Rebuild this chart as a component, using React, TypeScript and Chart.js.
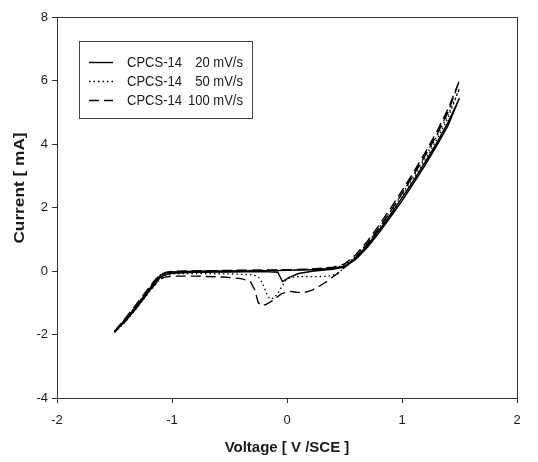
import React, { useEffect, useRef } from "react";
import { Chart, registerables } from "chart.js";

Chart.register(...registerables);

// ---- axis ticks ----
const xTicks = [-2, -1, 0, 1, 2];
const yTicks = [-4, -2, 0, 2, 4, 6, 8];
const xTitle = "Voltage [ V /SCE ]";
const yTitle = "Current [ mA]";

// ---- legend text ----
const sampleName = "CPCS-14";
const scanRates = ["20 mV/s", "50 mV/s", "100 mV/s"];

// ---- 20 mV/s loop (forward then reverse) ----
const volt20 = [
  -1.5, -1.45, -1.4, -1.35, -1.3, -1.25, -1.2, -1.15, -1.1, -1.05, -1.0, -0.8, -0.5, -0.2, 0.0, 0.2, 0.4, 0.5, 0.6, 0.7, 0.8, 0.9, 1.0, 1.1, 1.2, 1.3, 1.4, 1.5,
  1.4, 1.3, 1.2, 1.1, 1.0, 0.9, 0.8, 0.7, 0.6, 0.5, 0.4, 0.3, 0.22, 0.1, 0.02, -0.04, -0.08, -0.2, -0.5, -0.8, -1.0, -1.06, -1.1, -1.15, -1.2, -1.25, -1.3, -1.35, -1.4, -1.45, -1.5,
];
const curr20 = [
  -1.9, -1.7, -1.5, -1.28, -1.06, -0.82, -0.58, -0.34, -0.14, -0.06, -0.03, -0.01, 0.0, 0.01, 0.02, 0.04, 0.08, 0.15, 0.42, 0.82, 1.28, 1.78, 2.3, 2.85, 3.42, 4.02, 4.68, 5.45,
  4.58, 3.93, 3.33, 2.76, 2.21, 1.7, 1.2, 0.75, 0.37, 0.12, 0.05, 0.02, -0.01, -0.08, -0.2, -0.33, -0.04, -0.02, -0.03, -0.04, -0.07, -0.12, -0.2, -0.4, -0.64, -0.88, -1.12, -1.34, -1.55, -1.74, -1.92,
];

// ---- 50 mV/s loop ----
const volt50 = [
  -1.5, -1.4, -1.3, -1.2, -1.15, -1.1, -1.05, -1.0, -0.5, 0.0, 0.2, 0.4, 0.5, 0.6, 0.7, 0.8, 0.9, 1.0, 1.1, 1.2, 1.3, 1.4, 1.5,
  1.4, 1.3, 1.2, 1.1, 1.0, 0.9, 0.8, 0.7, 0.6, 0.5, 0.43, 0.35, 0.2, 0.08, 0.0, -0.03, -0.07, -0.11, -0.15, -0.18, -0.21, -0.25, -0.3, -0.5, -0.8, -1.0, -1.06, -1.1, -1.2, -1.3, -1.4, -1.5,
];
const curr50 = [
  -1.9, -1.48, -1.03, -0.55, -0.31, -0.12, -0.05, -0.02, 0.01, 0.03, 0.05, 0.1, 0.18, 0.47, 0.88, 1.36, 1.88, 2.42, 2.99, 3.58, 4.22, 4.92, 5.75,
  4.82, 4.12, 3.49, 2.9, 2.33, 1.8, 1.28, 0.8, 0.4, 0.1, -0.1, -0.17, -0.18, -0.18, -0.24, -0.4, -0.65, -0.85, -0.88, -0.7, -0.4, -0.18, -0.12, -0.09, -0.08, -0.09, -0.14, -0.24, -0.67, -1.14, -1.58, -1.94,
];

// ---- 100 mV/s loop ----
const volt100 = [
  -1.5, -1.4, -1.3, -1.2, -1.15, -1.1, -1.05, -1.0, -0.5, 0.0, 0.2, 0.4, 0.5, 0.6, 0.7, 0.8, 0.9, 1.0, 1.1, 1.2, 1.3, 1.4, 1.5,
  1.4, 1.3, 1.2, 1.1, 1.0, 0.9, 0.8, 0.7, 0.6, 0.5, 0.45, 0.4, 0.35, 0.28, 0.22, 0.15, 0.08, 0.02, -0.05, -0.12, -0.18, -0.22, -0.25, -0.28, -0.32, -0.4, -0.55, -0.8, -1.0, -1.07, -1.12, -1.2, -1.3, -1.4, -1.5,
];
const curr100 = [
  -1.9, -1.46, -1.0, -0.52, -0.29, -0.11, -0.04, -0.01, 0.02, 0.04, 0.06, 0.12, 0.22, 0.52, 0.94, 1.44, 1.97, 2.53, 3.11, 3.72, 4.37, 5.1, 6.0,
  5.0, 4.27, 3.63, 3.02, 2.44, 1.88, 1.35, 0.86, 0.44, 0.12, -0.05, -0.18, -0.32, -0.48, -0.6, -0.68, -0.67, -0.64, -0.72, -0.92, -1.05, -1.1, -1.0, -0.6, -0.32, -0.24, -0.19, -0.16, -0.16, -0.2, -0.3, -0.64, -1.12, -1.56, -1.93,
];

const toPoints = (xs: number[], ys: number[]) => xs.map((x, i) => ({ x, y: ys[i] }));

const FONT = "Arial, 'Liberation Sans', Helvetica, sans-serif";
const INK = "#1a1a1a";
const AXIS = "#333333";

const framePlugin = {
  id: "frameBox",
  afterDatasetsDraw(chart: any) {
    const { ctx, chartArea: a } = chart;
    ctx.save();
    ctx.strokeStyle = AXIS;
    ctx.lineWidth = 1;
    ctx.strokeRect(Math.round(a.left) + 0.5, Math.round(a.top) + 0.5, Math.round(a.right - a.left), Math.round(a.bottom - a.top));
    ctx.restore();
  },
};

// vertical axis title (the source is slightly stretched along the text direction)
const yTitlePlugin = {
  id: "yTitleDraw",
  afterDraw(chart: any) {
    const { ctx, chartArea: a } = chart;
    ctx.save();
    ctx.translate(20, a.top + 171);
    ctx.rotate(-Math.PI / 2);
    ctx.scale(1.15, 1);
    ctx.font = `bold 15px ${FONT}`;
    ctx.fillStyle = INK;
    ctx.textAlign = "center";
    ctx.textBaseline = "middle";
    ctx.fillText(yTitle, 0, 0);
    ctx.restore();
  },
};

const legendPlugin = {
  id: "boxLegend",
  afterDraw(chart: any) {
    const { ctx, chartArea: a } = chart;
    const left = Math.round(a.left) + 22;
    const top = Math.round(a.top) + 24;
    const w = 173;
    const h = 77;
    ctx.save();
    ctx.fillStyle = "#ffffff";
    ctx.fillRect(left, top, w, h);
    ctx.strokeStyle = "#444";
    ctx.lineWidth = 1;
    ctx.strokeRect(left + 0.5, top + 0.5, w, h);
    chart.data.datasets.forEach((ds: any, i: number) => {
      const cy = top + 21 + i * 19;
      ctx.beginPath();
      ctx.setLineDash(ds.borderDash || []);
      ctx.lineWidth = ds.borderWidth;
      ctx.strokeStyle = ds.borderColor;
      ctx.moveTo(left + 10, cy + 0.5);
      ctx.lineTo(left + 34, cy + 0.5);
      ctx.stroke();
      ctx.setLineDash([]);
      ctx.fillStyle = INK;
      ctx.font = `14px ${FONT}`;
      ctx.textBaseline = "middle";
      ctx.save();
      ctx.translate(left + 48, cy + 1);
      ctx.scale(0.93, 1);
      ctx.textAlign = "left";
      ctx.fillText(sampleName, 0, 0);
      ctx.restore();
      ctx.save();
      ctx.translate(left + 164, cy + 1);
      ctx.scale(0.93, 1);
      ctx.textAlign = "right";
      ctx.fillText(scanRates[i], 0, 0);
      ctx.restore();
    });
    ctx.restore();
  },
};

export default function App() {
  const ref = useRef<HTMLCanvasElement | null>(null);

  useEffect(() => {
    if (!ref.current) return;
    const chart = new Chart(ref.current, {
      type: "scatter",
      data: {
        datasets: [
          {
            label: `${sampleName} ${scanRates[0]}`,
            data: toPoints(volt20, curr20),
            showLine: true,
            borderColor: "#000",
            borderWidth: 1.4,
            borderDash: [],
            pointRadius: 0,
            tension: 0,
          },
          {
            label: `${sampleName} ${scanRates[1]}`,
            data: toPoints(volt50, curr50),
            showLine: true,
            borderColor: "#000",
            borderWidth: 1.3,
            borderDash: [1.5, 3],
            pointRadius: 0,
            tension: 0,
          },
          {
            label: `${sampleName} ${scanRates[2]}`,
            data: toPoints(volt100, curr100),
            showLine: true,
            borderColor: "#000",
            borderWidth: 1.4,
            borderDash: [10, 5],
            pointRadius: 0,
            tension: 0,
          },
        ],
      },
      options: {
        responsive: false,
        animation: false,
        devicePixelRatio: 1,
        layout: { padding: { top: 17, right: 21, left: 0, bottom: 0 } },
        plugins: { legend: { display: false }, tooltip: { enabled: false } },
        scales: {
          x: {
            type: "linear",
            min: -2,
            max: 2,
            afterBuildTicks: (s: any) => {
              s.ticks = xTicks.map((v) => ({ value: v }));
            },
            afterFit: (s: any) => {
              s.height = 64;
            },
            grid: { drawOnChartArea: false, drawTicks: true, tickLength: 5, color: AXIS },
            border: { display: true, color: AXIS },
            ticks: { color: INK, font: { family: FONT, size: 13 }, padding: 10, maxRotation: 0 },
            title: {
              display: true,
              text: xTitle,
              color: INK,
              font: { family: FONT, size: 15, weight: "bold" },
              padding: { top: 0, bottom: 5 },
            },
          },
          y: {
            type: "linear",
            min: -4,
            max: 8,
            afterBuildTicks: (s: any) => {
              s.ticks = yTicks.map((v) => ({ value: v }));
            },
            afterFit: (s: any) => {
              s.width = 57;
            },
            grid: { drawOnChartArea: false, drawTicks: true, tickLength: 5, color: AXIS },
            border: { display: true, color: AXIS },
            ticks: { color: INK, font: { family: FONT, size: 13 }, padding: 4 },
            title: { display: false, text: yTitle },
          },
        },
      },
      plugins: [framePlugin, legendPlugin, yTitlePlugin],
    } as any);
    return () => chart.destroy();
  }, []);

  return (
    <canvas
      ref={ref}
      width={538}
      height={462}
      style={{ position: "fixed", left: 0, top: 0, width: 538, height: 462, display: "block", background: "#fff" }}
    />
  );
}
